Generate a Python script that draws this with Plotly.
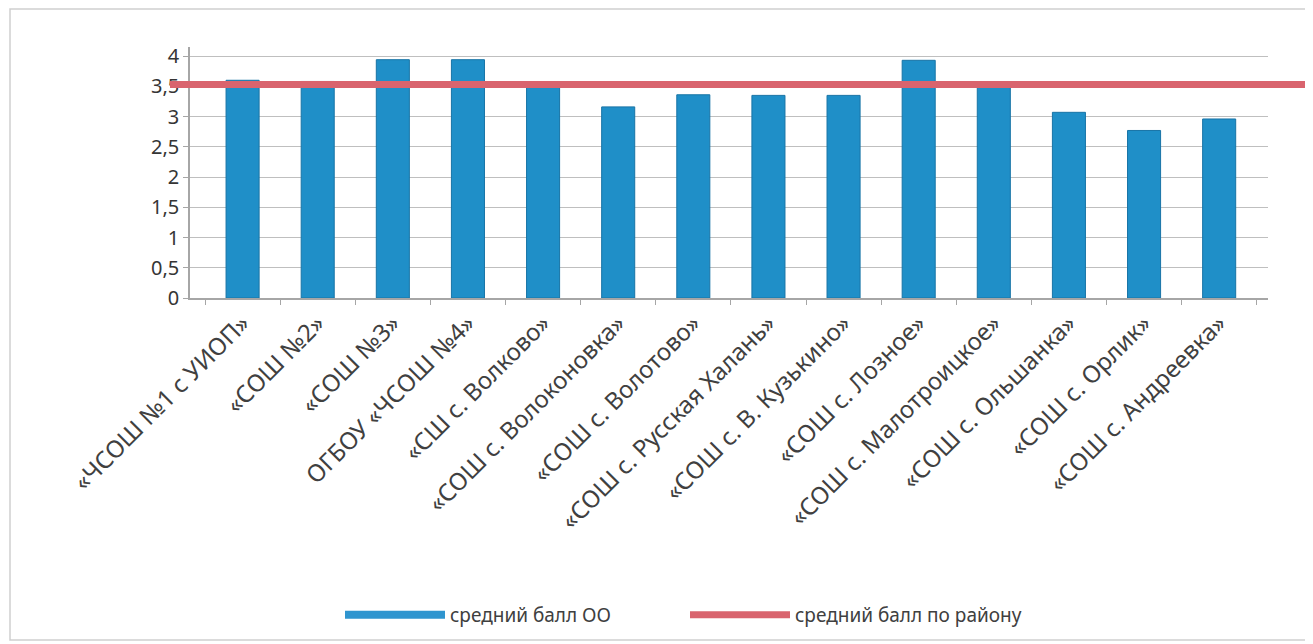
import plotly.graph_objects as go

categories = [
    "«ЧСОШ №1 с УИОП»", "«СОШ №2»", "«СОШ №3»", "ОГБОУ «ЧСОШ №4»",
    "«СШ с. Волково»", "«СОШ с. Волоконовка»", "«СОШ с. Волотово»",
    "«СОШ с. Русская Халань»", "«СОШ с. В. Кузькино»", "«СОШ с. Лозное»",
    "«СОШ с. Малотроицкое»", "«СОШ с. Ольшанка»", "«СОШ с. Орлик»",
    "«СОШ с. Андреевка»",
]
school_avg = [3.60, 3.58, 3.94, 3.94, 3.48, 3.16, 3.36, 3.35, 3.35, 3.93, 3.56, 3.07, 2.77, 2.96]
district_avg = 3.53
y_ticks = [0, 0.5, 1, 1.5, 2, 2.5, 3, 3.5, 4]
series_names = ["средний балл ОО", "средний балл по району"]

BLUE = "#1f8fc8"
RED = "#d9646e"
TXT = "#404040"
FONT = "Noto Sans"

# page is shown with an 8px body offset, so figure coords = screen coords - 8
W, H = 1313, 644
ML, MR, MT, MB = 162, 8, 39, 354
plot_w = W - ML - MR
plot_h = H - MT - MB
x_dom = [(182 - ML) / plot_w, (1260 - ML) / plot_w]

fig = go.Figure()

fig.add_trace(go.Bar(
    x=categories, y=school_avg, name=series_names[0],
    marker=dict(color=BLUE, line=dict(color="#1874a6", width=1)),
    width=0.44, showlegend=False, xaxis="x", yaxis="y",
))

# legend entry drawn as a line, like the reference legend
fig.add_trace(go.Scatter(
    x=[None], y=[None], mode="lines", name=series_names[0],
    line=dict(color="#2f95cf", width=8), xaxis="x", yaxis="y",
))

fig.add_trace(go.Scatter(
    x=[0, 1], y=[district_avg, district_avg], mode="lines",
    name=series_names[1], line=dict(color=RED, width=7),
    xaxis="x2", yaxis="y2", hoverinfo="skip",
))

yrange = [0, 4.15]

fig.update_layout(
    width=W, height=H,
    margin=dict(l=ML, r=MR, t=MT, b=MB),
    paper_bgcolor="white", plot_bgcolor="rgba(0,0,0,0)",
    separators=", ",
    font=dict(family=FONT, color=TXT),
    bargap=0.5,
    xaxis=dict(
        domain=x_dom, range=[-0.7, 13.65],
        tickangle=-45, tickfont=dict(size=24, color=TXT),
        showline=True, linecolor="#a6a6a6", linewidth=1.5,
        ticks="outside", tickson="boundaries", ticklen=5, tickcolor="#a6a6a6",
        showgrid=False, anchor="y",
    ),
    yaxis=dict(
        range=yrange, tickvals=y_ticks,
        tickfont=dict(size=20, color="#353535"),
        showgrid=True, gridcolor="#bfbfbf", gridwidth=1,
        showline=True, linecolor="#a6a6a6", linewidth=1.5,
        ticks="outside", ticklen=5, tickcolor="#a6a6a6",
        zeroline=False, anchor="x",
    ),
    xaxis2=dict(domain=[0, 1], range=[0, 1], visible=False, anchor="y2"),
    yaxis2=dict(domain=[0, 1], range=yrange, visible=False, anchor="x2"),
    legend=dict(
        orientation="h", x=(332 - ML) / plot_w, xanchor="left",
        y=-(607 - (H - MB)) / plot_h, yanchor="middle",
        font=dict(size=19, color=TXT), entrywidth=230, itemwidth=100,
    ),
    shapes=[dict(
        type="rect", xref="paper", yref="paper",
        x0=(2 - ML) / plot_w, x1=(1303 - ML) / plot_w,
        y0=-(632 - (H - MB)) / plot_h, y1=1 + (MT - 1) / plot_h,
        line=dict(color="#cfcfcf", width=1.5), fillcolor="rgba(0,0,0,0)",
        layer="below",
    )],
)

fig.write_html("out.html")
